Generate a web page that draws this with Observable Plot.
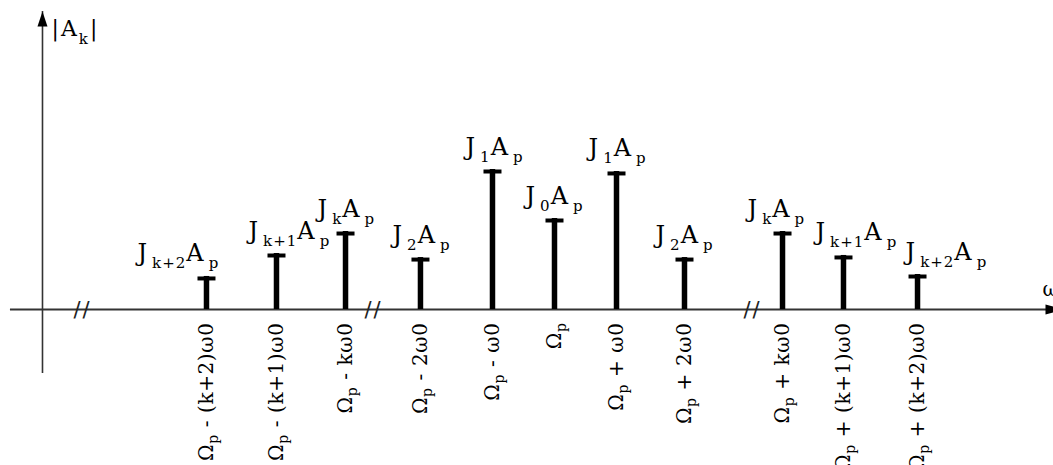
<!DOCTYPE html>
<html><head><meta charset="utf-8">
<script src="https://cdn.jsdelivr.net/npm/d3@7"></script>
<script src="https://cdn.jsdelivr.net/npm/@observablehq/plot@0.6"></script>
<style>body{margin:0;background:#fff}</style>
</head><body><div id="chart"></div>
<script>
// frequency slots (arbitrary units, 0 = Ωp)
const slots = [-5.354, -4.277, -3.215, -2.062, -0.954, 0, 0.954, 2.0, 3.508, 4.446, 5.585];
// relative amplitudes |A_k| (J1Ap = 1)
const amplitudes = [0.236, 0.40, 0.557, 0.371, 1.0, 0.65, 0.986, 0.371, 0.557, 0.386, 0.25];
const topLabels = ["J_{k+2}A_p", "J_{k+1}A_p", "J_kA_p", "J_2A_p", "J_1A_p", "J_0A_p", "J_1A_p", "J_2A_p", "J_kA_p", "J_{k+1}A_p", "J_{k+2}A_p"];
const bottomLabels = ["Ω_p - (k+2)ω0", "Ω_p - (k+1)ω0", "Ω_p - kω0", "Ω_p - 2ω0", "Ω_p - ω0", "Ω_p", "Ω_p + ω0", "Ω_p + 2ω0", "Ω_p + kω0", "Ω_p + (k+1)ω0", "Ω_p + (k+2)ω0"];
const breakSlots = [-7.26, -2.785, 3.046];
const yAxisLabel = "|A_k|";
const xAxisLabel = "ω";

// layout (pixel offsets of top labels relative to their stems)
const topLabelDx = [-69, -28, -28, -28, -27, -29, -28, -29, -35, -28, -12];

const data = slots.map((s, i) => ({slot: s, amp: amplitudes[i], top: topLabels[i], bottom: bottomLabels[i]}));

const axisX = -7.877, axisTop = 2.129, axisBottom = -0.457;
const hStart = -8.37, hEnd = 7.6;

const capSymbol = {draw(ctx) { ctx.rect(-9, 0, 18, 4); }};
const upArrow = {draw(ctx) { ctx.moveTo(0, 0); ctx.lineTo(-5, 15); ctx.lineTo(5, 15); ctx.closePath(); }};
const rightArrow = {draw(ctx) { ctx.moveTo(17, 0); ctx.lineTo(-3, -5); ctx.lineTo(-3, 5); ctx.closePath(); }};

const chart = Plot.plot({
  width: 1053, height: 465,
  marginTop: 0, marginRight: 0, marginBottom: 0, marginLeft: 0,
  style: {fontFamily: "DejaVu Serif", background: "white", color: "black"},
  x: {type: "linear", domain: [-8.523, 7.677], range: [0, 1053], axis: null},
  y: {type: "linear", domain: [0, 1], range: [309, 169], axis: null},
  marks: [
    // horizontal axis
    Plot.ruleY([0], {x1: hStart, x2: hEnd, stroke: "#333", strokeWidth: 2}),
    Plot.dot([0], {x: hEnd, y: 0, symbol: rightArrow, fill: "black", stroke: "none", r: 5}),
    // vertical axis
    Plot.ruleX([axisX], {y1: axisBottom, y2: axisTop, stroke: "#333", strokeWidth: 1.6}),
    Plot.dot([0], {x: axisX, y: axisTop, symbol: upArrow, fill: "black", stroke: "none", r: 5}),
    // axis breaks (text mark #0)
    Plot.text(breakSlots, {x: d => d, y: 0, text: () => "//", fontSize: 21, fontFamily: "DejaVu Sans", fill: "#222", dy: 1}),
    // stems
    Plot.ruleX(data, {x: "slot", y1: 0, y2: "amp", stroke: "black", strokeWidth: 5.5}),
    Plot.dot(data, {x: "slot", y: "amp", symbol: capSymbol, fill: "black", stroke: "none", r: 5}),
    // labels above stems (text marks #1..#11)
    ...data.map((d, i) => Plot.text([d], {x: "slot", y: "amp", text: "top", dx: topLabelDx[i], dy: -15, textAnchor: "start", lineAnchor: "bottom", fontSize: 24, fill: "black"})),
    // rotated frequency labels (text mark #12)
    Plot.text(data, {x: "slot", y: 0, text: "bottom", rotate: -90, textAnchor: "end", lineAnchor: "middle", dy: 13, fontSize: 20, fill: "black"}),
    // axis titles (text marks #13, #14)
    Plot.text([yAxisLabel], {x: axisX, y: axisTop, text: d => d, dx: 9, dy: 25, textAnchor: "start", lineAnchor: "bottom", fontSize: 22, fill: "black"}),
    Plot.text([xAxisLabel], {x: hEnd, y: 0, text: d => d, dx: -6, dy: -14, textAnchor: "start", lineAnchor: "bottom", fontSize: 20, fill: "black"})
  ]
});

function richText(selection, subSize, shift, spacing, subSpacing) {
  selection.each(function() {
    const s = this.textContent;
    const parts = [];
    const re = /_(\{([^}]*)\}|(.))/g;
    let last = 0, m;
    while ((m = re.exec(s))) {
      if (m.index > last) parts.push({t: s.slice(last, m.index), sub: false});
      parts.push({t: m[2] !== undefined ? m[2] : m[3], sub: true});
      last = re.lastIndex;
    }
    if (last < s.length) parts.push({t: s.slice(last), sub: false});
    while (this.firstChild) this.removeChild(this.firstChild);
    let cur = 0;
    for (const p of parts) {
      const ts = document.createElementNS("http://www.w3.org/2000/svg", "tspan");
      ts.textContent = p.t;
      const target = p.sub ? shift : 0;
      if (target !== cur) ts.setAttribute("dy", target - cur);
      cur = target;
      if (p.sub) ts.setAttribute("font-size", subSize);
      ts.setAttribute("letter-spacing", p.sub ? subSpacing : spacing);
      this.appendChild(ts);
    }
  });
}

const textGroups = chart.querySelectorAll('g[aria-label="text"]');
d3.select(textGroups[0]).selectAll("text").attr("letter-spacing", 2);
for (let i = 1; i <= 11; i++) richText(d3.select(textGroups[i]).selectAll("text"), 15, 7, 5, 1);
richText(d3.select(textGroups[12]).selectAll("text"), 14, 5, 0.6, 0.6);
richText(d3.select(textGroups[13]).selectAll("text"), 15, 8, 2, 2);

document.getElementById("chart").appendChild(chart);
</script>
</body></html>
